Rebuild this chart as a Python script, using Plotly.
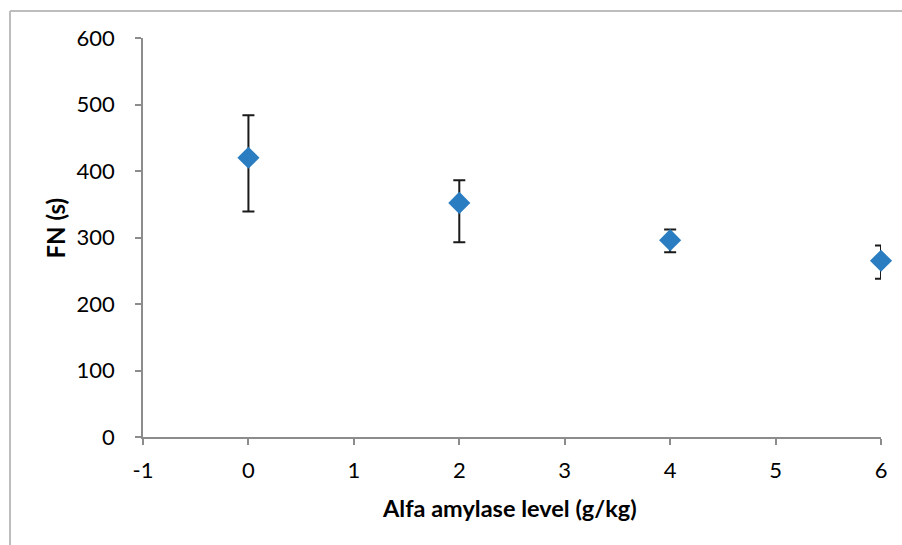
import plotly.graph_objects as go

levels = [0, 2, 4, 6]
fn_mean = [420, 352, 296, 265]
err_plus = [64, 34, 16, 23]
err_minus = [81, 59, 18, 27]

x_ticks = [-1, 0, 1, 2, 3, 4, 5, 6]
x_ticktext = ["-1", "0", "1", "2", "3", "4", "5", "6"]
y_ticks = [0, 100, 200, 300, 400, 500, 600]

x_title = "Alfa amylase level (g/kg)"
y_title = "FN (s)"

fig = go.Figure()
fig.add_trace(go.Scatter(
    x=levels, y=fn_mean, mode="markers",
    marker=dict(symbol="diamond", size=17, color="#2A7DC1"),
    error_y=dict(type="data", symmetric=False, array=err_plus, arrayminus=err_minus,
                 color="#1a1a1a", thickness=2, width=6),
    cliponaxis=False,
    showlegend=False,
))

font_family = "Lato, 'Open Sans', sans-serif"
fig.update_layout(
    width=902, height=545, autosize=False,
    margin=dict(l=143, r=21, t=38, b=108),
    paper_bgcolor="white", plot_bgcolor="white",
    font=dict(family=font_family, size=22, color="black"),
    xaxis=dict(
        range=[-1, 6], tickvals=x_ticks, ticktext=x_ticktext,
        showgrid=False, zeroline=False, automargin=False,
        showline=True, linecolor="#8c8c8c", linewidth=1.5,
        ticks="outside", ticklen=6, tickcolor="#8c8c8c", tickwidth=1.5,
        ticklabelstandoff=7,
    ),
    yaxis=dict(
        range=[0, 600], tickvals=y_ticks, showgrid=False, zeroline=False,
        automargin=False,
        showline=True, linecolor="#8c8c8c", linewidth=1.5,
        ticks="outside", ticklen=6, tickcolor="#8c8c8c", tickwidth=1.5,
        ticklabelstandoff=16,
    ),
    annotations=[
        dict(text="<b>" + x_title + "</b>", xref="paper", yref="paper",
             x=0.4966, y=-0.178, xanchor="center", yanchor="middle",
             showarrow=False, font=dict(size=23.5)),
        dict(text="<b>" + y_title + "</b>", xref="paper", yref="paper",
             x=-0.1179, y=0.525, xanchor="center", yanchor="middle",
             textangle=-90, showarrow=False, font=dict(size=24)),
    ],
    shapes=[
        dict(type="line", xref="paper", yref="paper",
             x0=-0.1802, x1=-0.1802, y0=-0.6, y1=1.0677,
             line=dict(color="#bdbdbd", width=2), layer="below"),
        dict(type="line", xref="paper", yref="paper",
             x0=-0.1802, x1=1.4, y0=1.0677, y1=1.0677,
             line=dict(color="#bdbdbd", width=2), layer="below"),
    ],
)

fig.write_html(
    "out.html",
    config={"displayModeBar": False},
    post_script="document.body.style.margin='0';document.body.style.overflow='hidden';",
)
